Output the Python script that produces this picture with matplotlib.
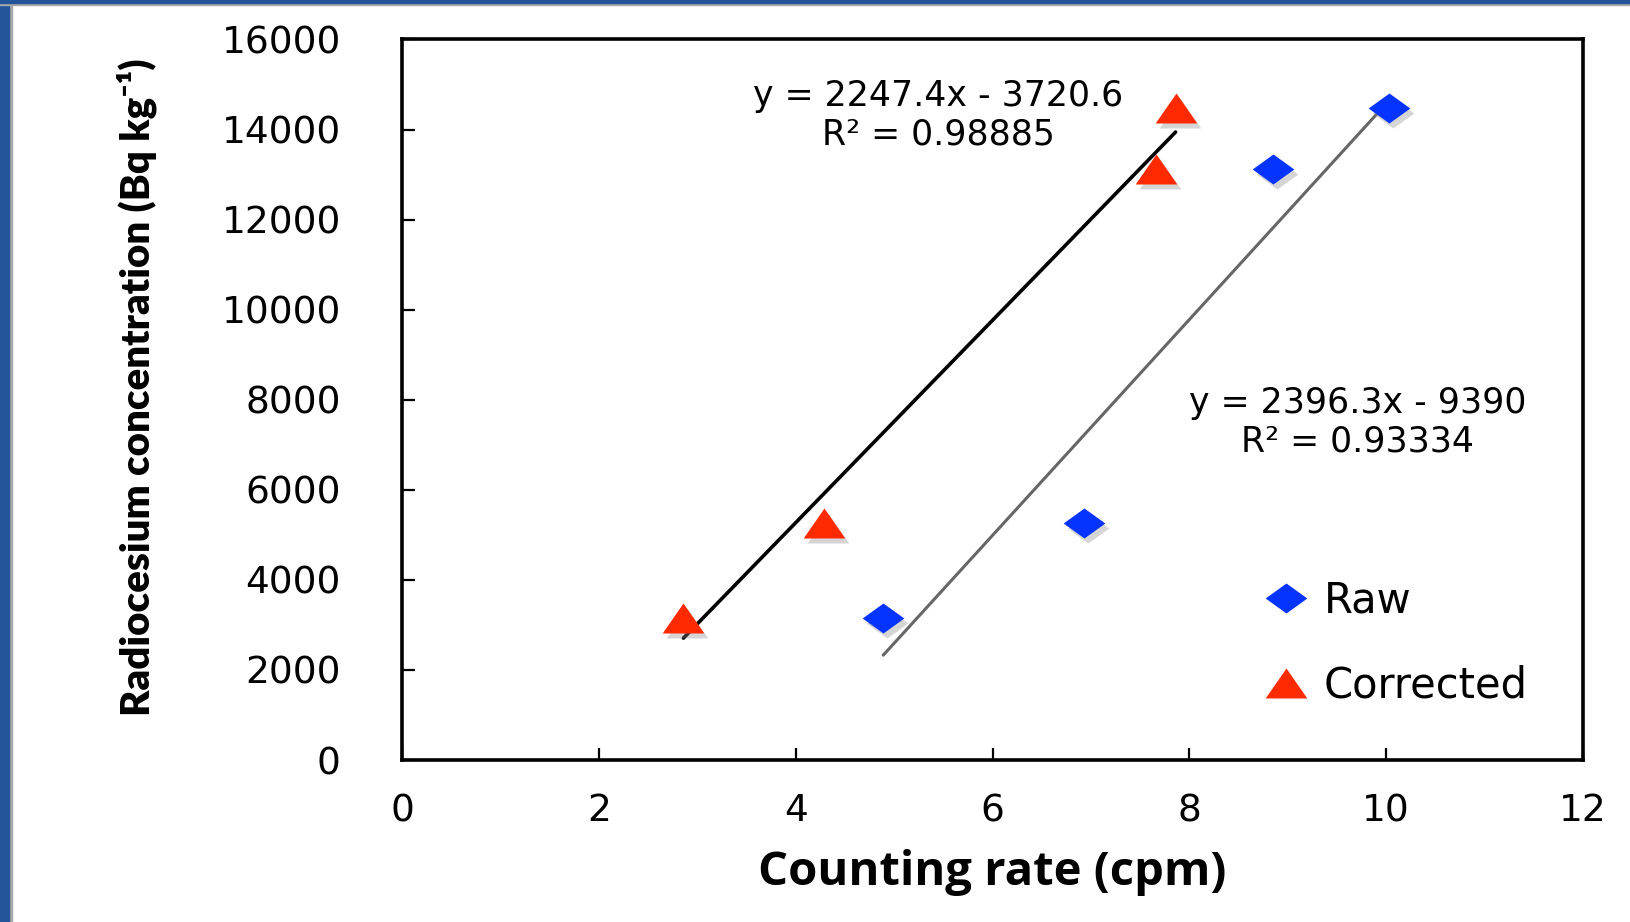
import numpy as np
import matplotlib
matplotlib.use('Agg')
import matplotlib.pyplot as plt
from matplotlib.patches import Rectangle
from matplotlib.transforms import offset_copy

# data
raw_x = [4.89, 6.93, 8.85, 10.03]
raw_y = [3160, 5260, 13120, 14480]
cor_x = [2.86, 4.29, 7.66, 7.86]
cor_y = [3160, 5260, 13120, 14480]

# trendline coefficients (as printed on the chart)
raw_fit = (2396.3, -9390)
cor_fit = (2247.4, -3720.6)
raw_label = 'y = 2396.3x - 9390\nR² = 0.93334'
cor_label = 'y = 2247.4x - 3720.6\nR² = 0.98885'

x_ticks = [0, 2, 4, 6, 8, 10, 12]
y_ticks = [0, 2000, 4000, 6000, 8000, 10000, 12000, 14000, 16000]

blue = '#0533ff'
red = '#ff2a00'

# squashed diamond / triangle like the Excel markers
diamond = [(-1, 0), (0, 0.72), (1, 0), (0, -0.72), (-1, 0)]
triangle = [(-1, -0.72), (1, -0.72), (0, 0.72), (-1, -0.72)]

fig = plt.figure(figsize=(16.3, 9.22), dpi=100)
fig.patch.set_facecolor('white')

# slide frame (blue strip left and top)
fig.add_artist(Rectangle((0, 0), 12 / 1630, 1, transform=fig.transFigure, color='#a8a8a8', zorder=0))
fig.add_artist(Rectangle((0, 0), 9 / 1630, 1, transform=fig.transFigure, color='#24549a', zorder=0))
fig.add_artist(Rectangle((0, 1 - 5 / 922), 1, 5 / 922, transform=fig.transFigure, color='#a8a8a8', zorder=0))
fig.add_artist(Rectangle((0, 1 - 3 / 922), 1, 3 / 922, transform=fig.transFigure, color='#24549a', zorder=0))

ax = fig.add_axes([0.2466, 0.1757, 0.7246, 0.7815])

# trendlines over the range of each series
xs = np.array([min(cor_x), max(cor_x)])
ax.plot(xs, cor_fit[0] * xs + cor_fit[1], color='black', lw=2.6, solid_capstyle='round', zorder=2)
xs = np.array([min(raw_x), max(raw_x)])
ax.plot(xs, raw_fit[0] * xs + raw_fit[1], color='#666666', lw=2.2, solid_capstyle='round', zorder=2)

# soft shadows under the markers
shadow = offset_copy(ax.transData, fig=fig, x=4, y=-5, units='dots')
ax.plot(raw_x, raw_y, ls='none', marker=diamond, ms=30, mec='none', mfc='#888888', alpha=0.35, transform=shadow, zorder=3)
ax.plot(cor_x, cor_y, ls='none', marker=triangle, ms=30, mec='none', mfc='#888888', alpha=0.35, transform=shadow, zorder=3)

ax.plot(raw_x, raw_y, ls='none', marker=diamond, ms=30, mec='none', mfc=blue, label='Raw', zorder=4)
ax.plot(cor_x, cor_y, ls='none', marker=triangle, ms=30, mec='none', mfc=red, label='Corrected', zorder=4)

ax.text(5.45, 14320, cor_label, ha='center', va='center', fontsize=25, linespacing=1.15)
ax.text(9.71, 7500, raw_label, ha='center', va='center', fontsize=25, linespacing=1.15)

ax.set_xlim(0, 12)
ax.set_ylim(0, 16000)
ax.set_xticks(x_ticks)
ax.set_yticks(y_ticks)
ax.tick_params(direction='in', length=9, width=1.6, labelsize=27, pad=24)
ax.tick_params(axis='y', pad=44)
for s in ax.spines.values():
    s.set_linewidth(2.6)

ax.set_xlabel('Counting rate (cpm)', fontsize=34, fontweight='bold',
              family=['Open Sans', 'DejaVu Sans'], labelpad=14)
ax.set_ylabel('Radiocesium concentration (Bq kg⁻¹)', fontsize=29, fontweight='heavy',
              family=['Lato', 'DejaVu Sans'])
ax.yaxis.set_label_coords(-0.207, 0.518)

ax.legend(loc='upper left', bbox_to_anchor=(0.715, 0.28), frameon=False, fontsize=30,
          handlelength=0.9, handletextpad=0.45, labelspacing=1.05, borderpad=0)

fig.savefig('out.png', dpi=100, facecolor='white')
